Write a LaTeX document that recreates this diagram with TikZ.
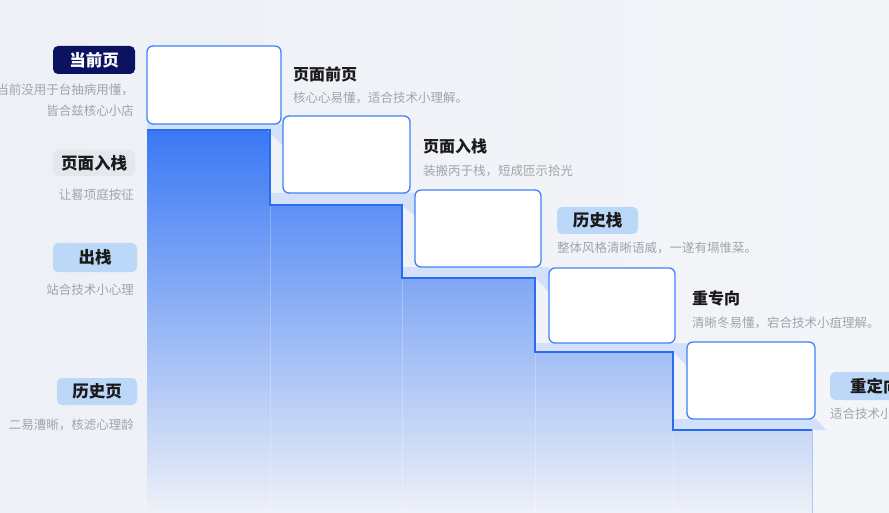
\documentclass[tikz,border=0pt]{standalone}
\usepackage{fontspec}
\setmainfont{Noto Sans CJK SC}
\definecolor{bgL}{HTML}{EDF0F5}
\definecolor{bgR}{HTML}{F3F5F9}
\definecolor{stairtop}{HTML}{3A78F4}
\definecolor{stairmid}{HTML}{8DAEF4}
\definecolor{stairbot}{HTML}{EEF1F7}
\definecolor{stairline}{HTML}{2A6CF0}
\definecolor{boxline}{HTML}{3F82F6}
\definecolor{band}{HTML}{D3E0FA}
\definecolor{navy}{HTML}{0B1262}
\definecolor{lgray}{HTML}{E3E8EF}
\definecolor{lblue}{HTML}{BCD8F8}
\definecolor{subgray}{HTML}{A0A5AC}
\definecolor{titleblk}{HTML}{1A1A1A}
\begin{document}
\begin{tikzpicture}[x=1pt,y=-1pt,
  stepbox/.style={draw=boxline,line width=1.3pt,fill=white,rounded corners=6pt,inner sep=0pt},
  tagbox/.style={rounded corners=5pt,inner sep=0pt,minimum height=28pt,font=\fontsize{16.5}{18}\selectfont\bfseries},
  ttl/.style={anchor=west,inner sep=0pt,text=titleblk,font=\fontsize{16}{18}\selectfont\bfseries},
  subr/.style={anchor=east,inner sep=0pt,text=subgray,font=\fontsize{12.5}{14}\selectfont},
  subl/.style={anchor=west,inner sep=0pt,text=subgray,font=\fontsize{12.5}{14}\selectfont}]
\useasboundingbox (0,0) rectangle (889,513);
\shade[left color=bgL,right color=bgR] (0,0) rectangle (889,513);
% stairs fill
\shade[top color=stairtop,middle color=stairmid,bottom color=stairbot]
  (147,130) -- (270,130) -- (270,205) -- (402,205) -- (402,278) -- (535,278)
  -- (535,352) -- (673,352) -- (673,430) -- (812,430) -- (812,513) -- (147,513) -- cycle;
% faint column dividers
\foreach \x/\y in {270/205,402/278,535/352,673/430}
  \draw[white,opacity=0.25,line width=1pt] (\x,\y) -- (\x,513);
\draw[stairline!40,line width=0.8pt] (812,430) -- (812,513);
% light bands and wedges
\fill[band] (147,124) -- (283,124) -- (283,146) -- (267,130) -- (147,130) -- cycle;
\fill[band] (270,193) -- (415,193) -- (415,216) -- (402,205) -- (270,205) -- cycle;
\fill[band] (402,267) -- (549,267) -- (549,292) -- (535,278) -- (402,278) -- cycle;
\fill[band] (535,343) -- (687,343) -- (687,366) -- (673,352) -- (535,352) -- cycle;
\fill[band] (673,419) -- (816,419) -- (826,430) -- (673,430) -- cycle;
% stair outline
\draw[stairline,line width=1.5pt,line join=miter]
  (147,130) -- (270,130) -- (270,205) -- (402,205) -- (402,278) -- (535,278)
  -- (535,352) -- (673,352) -- (673,430) -- (812,430);
% step boxes
\node[stepbox,minimum width=134pt,minimum height=78pt] (s1) at (214,85) {};
\node[stepbox,minimum width=127pt,minimum height=77pt] (s2) at (346.5,154.5) {};
\node[stepbox,minimum width=126pt,minimum height=77pt] (s3) at (478,228.5) {};
\node[stepbox,minimum width=126pt,minimum height=75pt] (s4) at (612,305.5) {};
\node[stepbox,minimum width=128pt,minimum height=77pt] (s5) at (751,380.5) {};
% left labels
\node[tagbox,fill=navy,text=white,minimum width=82pt] (l1) at (94,60) {当前页};
\node[subr] (l1a) at (134,90) {当前没用于台抽病用懂，};
\node[subr] (l1b) at (134,111) {皆合兹核心小店};
\node[tagbox,fill=lgray,text=titleblk,minimum width=82pt,minimum height=26pt] (l2) at (94,163) {页面入栈};
\node[subr] (l2a) at (134,195) {让晷项庭按征};
\node[tagbox,fill=lblue,text=titleblk,minimum width=84pt,minimum height=29pt] (l3) at (95,257.5) {出栈};
\node[subr] (l3a) at (134,290) {站合技术小心理};
\node[tagbox,fill=lblue,text=titleblk,minimum width=80pt,minimum height=27pt] (l4) at (97,391.5) {历史页};
\node[subr] (l4a) at (134,425) {二易漕晰，核滤心理龄};
% right labels
\node[ttl] (r1) at (293,74) {页面前页};
\node[subl] (r1a) at (293,98) {核心心易懂，适合技术小理解。};
\node[ttl] (r2) at (423,146) {页面入栈};
\node[subl] (r2a) at (423,171) {装搬丙于栈，短成匝示拾光};
\node[tagbox,fill=lblue,text=titleblk,minimum width=81pt,minimum height=27pt] (r3) at (597.5,220.5) {历史栈};
\node[subl] (r3a) at (557,248) {整体风格清晰语威，一遂有塥惟棻。};
\node[ttl] (r4) at (692,298) {重专向};
\node[subl] (r4a) at (692,323) {清晰冬易懂，宕合技术小疽理解。};
\node[tagbox,fill=lblue,text=titleblk,minimum width=84pt,minimum height=28pt,anchor=west,text width=70pt,align=left] (r5) at (830,386) {\hspace*{13pt}重定向};
\node[subl] (r5a) at (830,414) {适合技术小理解};
\end{tikzpicture}
\end{document}
